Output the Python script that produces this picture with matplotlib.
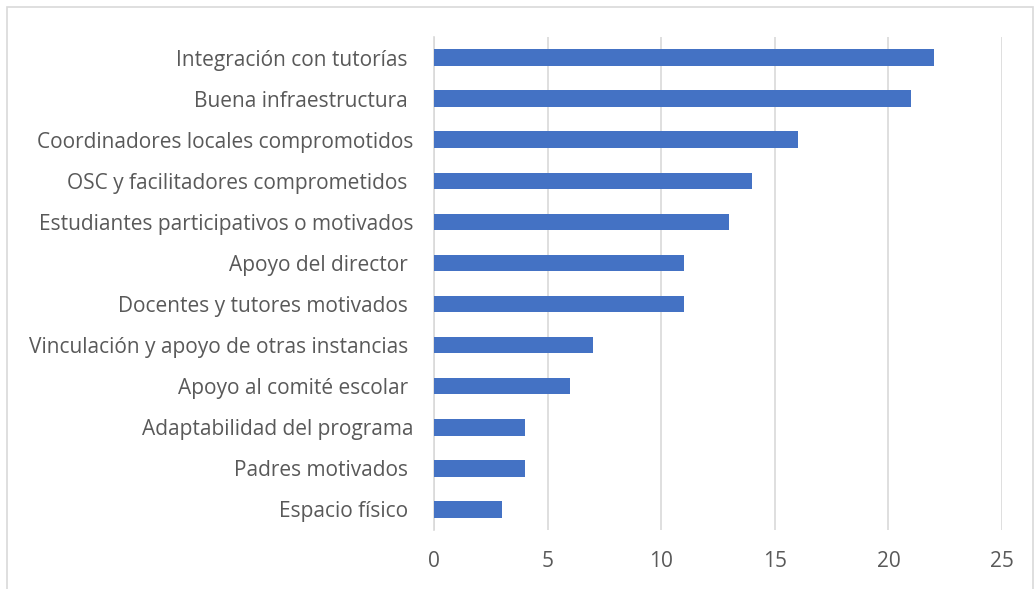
import matplotlib.pyplot as plt
from matplotlib.patches import Rectangle

plt.rcParams["font.family"] = ["Open Sans", "DejaVu Sans"]

categories = [
    "Integración con tutorías ",
    "Buena infraestructura ",
    "Coordinadores locales compromotidos",
    "OSC y facilitadores comprometidos ",
    "Estudiantes participativos o motivados",
    "Apoyo del director ",
    "Docentes y tutores motivados ",
    "Vinculación y apoyo de otras instancias ",
    "Apoyo al comité escolar ",
    "Adaptabilidad del programa",
    "Padres motivados ",
    "Espacio físico ",
]
values = [22, 21, 16, 14, 13, 11, 11, 7, 6, 4, 4, 3]
xticks = [0, 5, 10, 15, 20, 25]

BAR_COLOR = "#4472C4"
TEXT_COLOR = "#595959"
GRID_COLOR = "#D9D9D9"

fig = plt.figure(figsize=(10.36, 5.89), dpi=100)
ax = fig.add_axes([434 / 1036, 1 - 530 / 589, (1002 - 434) / 1036, (530 - 37) / 589])

pos = list(range(len(categories)))[::-1]
ax.barh(pos, values, height=0.4, color=BAR_COLOR, zorder=3)

ax.set_xlim(0, 25)
ax.set_ylim(-0.5, len(categories) - 0.5)
ax.set_xticks(xticks)
ax.set_yticks(pos)
ax.set_yticklabels(categories)
ax.xaxis.grid(True, color=GRID_COLOR, linewidth=1.2, zorder=0)
ax.tick_params(axis="both", length=0, labelsize=15, colors=TEXT_COLOR)
ax.tick_params(axis="x", pad=15)
ax.tick_params(axis="y", pad=15)
for s in ["top", "right", "bottom"]:
    ax.spines[s].set_visible(False)
ax.spines["left"].set_color(GRID_COLOR)
ax.spines["left"].set_linewidth(1.2)

# chart area border
fig.patches.append(Rectangle((7 / 1036, -0.05), (1033 - 7) / 1036, 1.05 - 7 / 589,
                             transform=fig.transFigure, fill=False,
                             edgecolor="#D9D9D9", linewidth=1.2))

fig.savefig("out.png", dpi=100)
